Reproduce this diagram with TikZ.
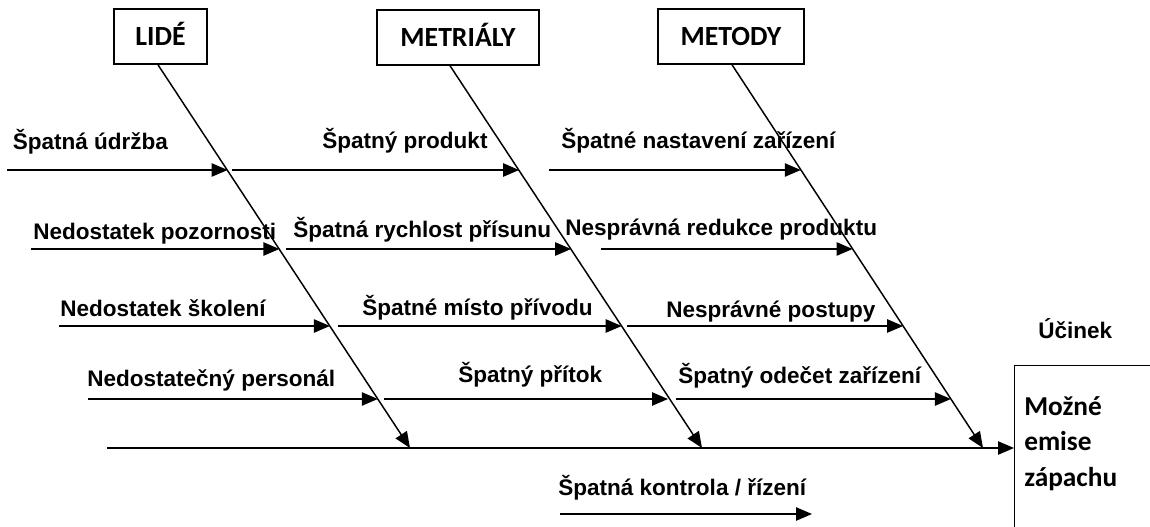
\documentclass[tikz,border=0pt]{standalone}
\usepackage{fontspec}
\setmainfont{Liberation Sans}
\newfontfamily\calib{Carlito}
\usetikzlibrary{arrows.meta}
\begin{document}
\begin{tikzpicture}[x=0.75pt,y=-0.75pt,
  lbl/.style={anchor=base west,inner sep=0pt,font=\fontsize{16.9}{19}\selectfont\bfseries},
  efftext/.style={anchor=base west,inner sep=0pt,font=\calib\fontsize{20.5}{24}\selectfont\bfseries},
  catbox/.style={draw,line width=1.1pt,minimum height=41.25pt,inner sep=0pt,text height=15pt,text depth=1.5pt,font=\calib\fontsize{20.8}{23}\selectfont\bfseries},
  bone/.style={line width=1.1pt},
  arr/.style={line width=1.1pt,-{Triangle[length=12pt,width=10pt]}}]
\useasboundingbox (0,0) rectangle (1150,526);
\clip (0,0) rectangle (1150,526);

% category boxes
\node[catbox,minimum width=69.75pt] (lide) at (160.5,36.5) {LIDÉ};
\node[catbox,minimum width=121.5pt] (metr) at (458,37.5) {METRIÁLY};
\node[catbox,minimum width=109.5pt] (meto) at (731,36.5) {METODY};

% effect box
\node[draw,line width=1.1pt,anchor=north west,minimum width=150pt,minimum height=150pt] (effect) at (1014,365) {};
\node[lbl] (ucinek) at (1038,338) {Účinek};
\node[efftext] (e1) at (1024,415) {Možné};
\node[efftext] (e2) at (1024,450) {emise};
\node[efftext] (e3) at (1024,486) {zápachu};

% spine
\coordinate (sps) at (107,448);
\draw[arr] (sps) -- (effect.west |- sps);

% diagonals
\coordinate (d1e) at (410,448);
\coordinate (d2e) at (702,448);
\coordinate (d3e) at (983,448);
\draw[arr] ([xshift=-1.9pt]lide.south) -- (d1e);
\draw[arr] ([xshift=-6pt]metr.south) -- (d2e);
\draw[arr] ([xshift=0.75pt]meto.south) -- (d3e);

% row 1
\coordinate (a11) at (7,170);   \coordinate (t11) at (227.6,170);
\coordinate (a12) at (232,170); \coordinate (t12) at (519.1,170);
\coordinate (a13) at (549,170); \coordinate (t13) at (800.8,170);
\draw[arr] (a11) -- (t11);
\draw[arr] (a12) -- (t12);
\draw[arr] (a13) -- (t13);
\node[lbl] (l11) at (12.5,149) {Špatná údržba};
\node[lbl] (l12) at (322,148) {Špatný produkt};
\node[lbl] (l13) at (561,148) {Špatné nastavení zařízení};

% row 2
\coordinate (a21) at (31,249);  \coordinate (t21) at (279.4,249);
\coordinate (a22) at (286,249); \coordinate (t22) at (571.1,249);
\coordinate (a23) at (601,249); \coordinate (t23) at (852.6,249);
\draw[arr] (a21) -- (t21);
\draw[arr] (a22) -- (t22);
\draw[arr] (a23) -- (t23);
\node[lbl] (l21) at (33,239) {Nedostatek pozornosti};
\node[lbl] (l22) at (293,237) {Špatná rychlost přísunu};
\node[lbl] (l23) at (565,235) {Nesprávná redukce produktu};

% row 3
\coordinate (a31) at (59,326);  \coordinate (t31) at (329.9,326);
\coordinate (a32) at (338,326); \coordinate (t32) at (621.7,326);
\coordinate (a33) at (627,326); \coordinate (t33) at (903.1,326);
\draw[arr] (a31) -- (t31);
\draw[arr] (a32) -- (t32);
\draw[arr] (a33) -- (t33);
\node[lbl] (l31) at (60,316) {Nedostatek školení};
\node[lbl] (l32) at (362,315) {Špatné místo přívodu};
\node[lbl] (l33) at (666,317) {Nesprávné postupy};

% row 4
\coordinate (a41) at (88,399);  \coordinate (t41) at (377.8,399);
\coordinate (a42) at (384,399); \coordinate (t42) at (668,399);
\coordinate (a43) at (676,399); \coordinate (t43) at (950.9,399);
\draw[arr] (a41) -- (t41);
\draw[arr] (a42) -- (t42);
\draw[arr] (a43) -- (t43);
\node[lbl] (l41) at (87,386) {Nedostatečný personál};
\node[lbl] (l42) at (458,382) {Špatný přítok};
\node[lbl] (l43) at (678,383) {Špatný odečet zařízení};

% bottom
\coordinate (a51) at (560,514); \coordinate (t51) at (812,514);
\draw[arr] (a51) -- (t51);
\node[lbl] (l51) at (558,495) {Špatná kontrola / řízení};
\end{tikzpicture}
\end{document}
